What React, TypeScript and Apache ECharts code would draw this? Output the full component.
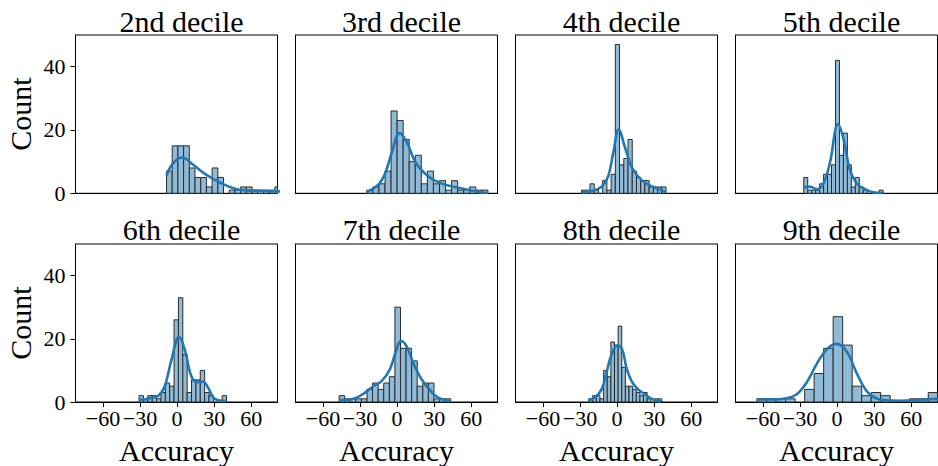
import React, { useEffect, useRef } from 'react';
import * as echarts from 'echarts';

const panelTitles = ['2nd decile', '3rd decile', '4th decile', '5th decile', '6th decile', '7th decile', '8th decile', '9th decile'];
const xTickValues = [-60, -30, 0, 30, 60];
const yTickValues = [0, 20, 40];
const xLabel = 'Accuracy';
const yLabel = 'Count';

// histogram bins: first edge, bin width, counts
const d2Start = -8.6; const d2Width = 4.62;
const d2Counts = [7, 15, 15, 15, 8, 5, 5, 2, 8, 5, 0, 1, 1, 2, 2, 1, 1, 1, 1, 2];
const d2KdeX = [-8.6, -3.2, 4.1, 13, 23.8, 34.6, 45.4, 56.2, 67, 80.5, 84];
const d2KdeY = [5.6, 9.5, 11.3, 9, 5.8, 3.4, 1.6, 0.9, 0.8, 0.6, 0.6];

const d3Start = -24.5; const d3Width = 4.9;
const d3Counts = [1, 2, 3, 7, 26, 23, 17, 10, 12, 3, 7, 3, 4, 1, 4, 1, 1, 2, 1, 1];
const d3KdeX = [-24.8, -14.6, -9.7, -4.5, 2.2, 7.6, 15.4, 25.4, 35.4, 45.4, 55.4, 65.3, 73.7];
const d3KdeY = [0.3, 3, 6.3, 12.6, 19, 16.3, 9.5, 5.3, 3.2, 2.1, 1.3, 0.5, 0.1];

const d4Start = -28.8; const d4Width = 3.42;
const d4Counts = [1, 1, 3, 1, 0, 4, 1, 6, 47, 9, 11, 17, 7, 5, 4, 4, 2, 2, 2, 2];
const d4KdeX = [-28.8, -20.7, -12.6, -7.3, -3.2, 1.4, 6.2, 11.7, 17, 22.4, 30.5, 39.4];
const d4KdeY = [0.3, 0.7, 2.1, 5.3, 12.6, 20.2, 14.7, 8.4, 5.3, 3.4, 1.8, 0.4];

const d5Start = -27; const d5Width = 3.21;
const d5Counts = [5, 1, 1, 1, 3, 6, 6, 9, 42, 12, 19, 9, 2, 5, 2, 1, 0, 0, 0, 1];
const d5KdeX = [-27, -22.1, -16.7, -11.3, -5.9, 0.8, 5.4, 10.3, 15.7, 21.1, 29.1, 37.2];
const d5KdeY = [1.9, 2.1, 1.3, 2.9, 9.5, 21.9, 16.8, 7.4, 3.2, 1.6, 0.3, 0.1];

const d6Start = -30.8; const d6Width = 3.54;
const d6Counts = [2, 1, 2, 2, 1, 3, 6, 5, 26, 33, 15, 3, 7, 7, 10, 3, 2, 0, 0, 2];
const d6KdeX = [-30.8, -22.1, -15.4, -10, -4.5, 1.6, 6.2, 11.7, 17, 21.1, 25.1, 30.5, 39.2];
const d6KdeY = [0.6, 1.2, 1.9, 5, 13.5, 20.6, 16.6, 8, 6.3, 6.4, 4.5, 1, 0.3];

const d7Start = -47; const d7Width = 4.52;
const d7Counts = [2, 1, 1, 1, 1, 4, 6, 4, 6, 8, 30, 17, 17, 13, 5, 6, 6, 1, 1, 1];
const d7KdeX = [-47, -39.7, -32.9, -26.2, -19.4, -12.6, -5.9, -0.5, 3, 7.6, 13, 19.8, 26.5, 33.2, 43.2];
const d7KdeY = [0.6, 0.7, 1.4, 2.9, 5, 6.6, 10.3, 16.6, 19.3, 17.7, 12.4, 7.2, 3.8, 1.4, 0.3];

const d8Start = -22.7; const d8Width = 2.94;
const d8Counts = [1, 2, 2, 1, 10, 8, 19, 18, 24, 11, 5, 5, 4, 3, 2, 3, 1, 0, 1, 1];
const d8KdeX = [-23.5, -18, -12.6, -8.6, -4.5, 0.3, 4.1, 7.6, 11.7, 17, 22.4, 29.1, 35.4];
const d8KdeY = [0.6, 1.4, 4, 9.3, 15, 17.9, 16.6, 10.8, 6.6, 4, 2.4, 0.8, 0.2];

const d9Start = -64.8; const d9Width = 7.7;
const d9Counts = [1, 1, 1, 1, 0, 4, 9, 17, 27, 18, 5, 2, 3, 2, 0, 0, 1, 1, 3];
const d9KdeX = [-65.3, -51.8, -41, -32.9, -24.8, -16.7, -8.6, -0.5, 7.6, 15.7, 23.8, 31.9, 40, 50.8, 61.6, 72.4, 81.8];
const d9KdeY = [0.8, 0.8, 1.2, 2.4, 6.1, 11.9, 16.6, 18.4, 16.1, 9.3, 3.5, 1.1, 0.5, 0.4, 0.5, 0.8, 1];

const panels = [
  { start: d2Start, width: d2Width, counts: d2Counts, kx: d2KdeX, ky: d2KdeY },
  { start: d3Start, width: d3Width, counts: d3Counts, kx: d3KdeX, ky: d3KdeY },
  { start: d4Start, width: d4Width, counts: d4Counts, kx: d4KdeX, ky: d4KdeY },
  { start: d5Start, width: d5Width, counts: d5Counts, kx: d5KdeX, ky: d5KdeY },
  { start: d6Start, width: d6Width, counts: d6Counts, kx: d6KdeX, ky: d6KdeY },
  { start: d7Start, width: d7Width, counts: d7Counts, kx: d7KdeX, ky: d7KdeY },
  { start: d8Start, width: d8Width, counts: d8Counts, kx: d8KdeX, ky: d8KdeY },
  { start: d9Start, width: d9Width, counts: d9Counts, kx: d9KdeX, ky: d9KdeY },
];

const X_MIN = -82.3;
const X_MAX = 81.3;
const Y_MAX = 50;

const FONT = "'Liberation Serif', 'DejaVu Serif', serif";
const BAR_FILL = '#8fbbd9';
const BAR_EDGE = '#2b2b2b';
const KDE_COLOR = '#1f77b4';

const colLeft = [75.5, 295.5, 515.5, 735.5];
const colWidth = 202;
const rowTop = [35, 244];
const rowHeight = [158.3, 158.7];

function fmtTick(v: number) {
  return v < 0 ? '\u2212' + Math.abs(v) : String(v);
}

export default function App() {
  const ref = useRef<HTMLDivElement>(null);
  useEffect(() => {
    if (!ref.current) return;
    const chart = echarts.init(ref.current, undefined, { renderer: 'svg' });
    const grids: any[] = [];
    const xAxes: any[] = [];
    const yAxes: any[] = [];
    const series: any[] = [];
    const titles: any[] = [];
    panels.forEach((p, i) => {
      const r = Math.floor(i / 4);
      const c = i % 4;
      const bottom = r === 1;
      const left = c === 0;
      grids.push({
        left: colLeft[c], top: rowTop[r], width: colWidth, height: rowHeight[r],
        show: true, borderColor: '#000', borderWidth: 1, backgroundColor: 'transparent',
      });
      titles.push({
        text: panelTitles[i],
        left: colLeft[c] + colWidth / 2,
        textAlign: 'center',
        top: r === 0 ? 1 : 209,
        textStyle: { fontFamily: FONT, fontSize: 30, fontWeight: 'normal', color: '#000' },
      });
      xAxes.push({
        gridIndex: i, type: 'value', min: X_MIN, max: X_MAX,
        splitLine: { show: false },
        axisLine: { show: true, onZero: false, lineStyle: { color: '#000', width: 1 } },
        axisTick: { show: bottom, customValues: xTickValues, length: 5, lineStyle: { color: '#000', width: 1 } },
        axisLabel: {
          show: bottom, customValues: xTickValues, formatter: fmtTick, margin: 5,
          fontFamily: FONT, fontSize: 22, color: '#000',
        },
        name: bottom ? xLabel : '', nameLocation: 'middle', nameGap: 33,
        nameTextStyle: { fontFamily: FONT, fontSize: 30, color: '#000' },
      });
      yAxes.push({
        gridIndex: i, type: 'value', min: 0, max: Y_MAX,
        splitLine: { show: false },
        axisLine: { show: true, onZero: false, lineStyle: { color: '#000', width: 1 } },
        axisTick: { show: left, customValues: yTickValues, length: 5, lineStyle: { color: '#000', width: 1 } },
        axisLabel: {
          show: left, customValues: yTickValues, margin: 10,
          fontFamily: FONT, fontSize: 22, color: '#000',
        },
        name: left ? yLabel : '', nameLocation: 'middle', nameGap: 40, nameRotate: 90,
        nameTextStyle: { fontFamily: FONT, fontSize: 30, color: '#000' },
      });
      const binData = p.counts.map((cnt, k) => [p.start + k * p.width, p.start + (k + 1) * p.width, cnt]);
      series.push({
        type: 'custom', xAxisIndex: i, yAxisIndex: i,
        data: binData,
        encode: { x: [0, 1], y: 2 },
        renderItem: (params: any, api: any) => {
          const cnt = api.value(2);
          if (!cnt) return null;
          const p0 = api.coord([api.value(0), cnt]);
          const p1 = api.coord([api.value(1), 0]);
          const cs = params.coordSys;
          const rect = echarts.graphic.clipRectByRect(
            { x: p0[0], y: p0[1], width: p1[0] - p0[0], height: p1[1] - p0[1] },
            { x: cs.x, y: cs.y, width: cs.width, height: cs.height }
          );
          if (!rect) return null;
          return {
            type: 'rect', shape: rect,
            style: { fill: BAR_FILL, stroke: BAR_EDGE, lineWidth: 1 },
          };
        },
        z: 2,
      });
      series.push({
        type: 'line', xAxisIndex: i, yAxisIndex: i,
        data: p.kx.map((x, k) => [x, p.ky[k]]),
        smooth: 0.4, showSymbol: false, clip: true,
        lineStyle: { color: KDE_COLOR, width: 2.6 },
        z: 3,
      });
    });
    chart.setOption({
      animation: false,
      backgroundColor: '#fff',
      title: titles,
      grid: grids,
      xAxis: xAxes,
      yAxis: yAxes,
      series,
    });
    return () => chart.dispose();
  }, []);
  return <div ref={ref} style={{ position: 'absolute', left: 0, top: 0, width: 938, height: 466 }} />;
}
